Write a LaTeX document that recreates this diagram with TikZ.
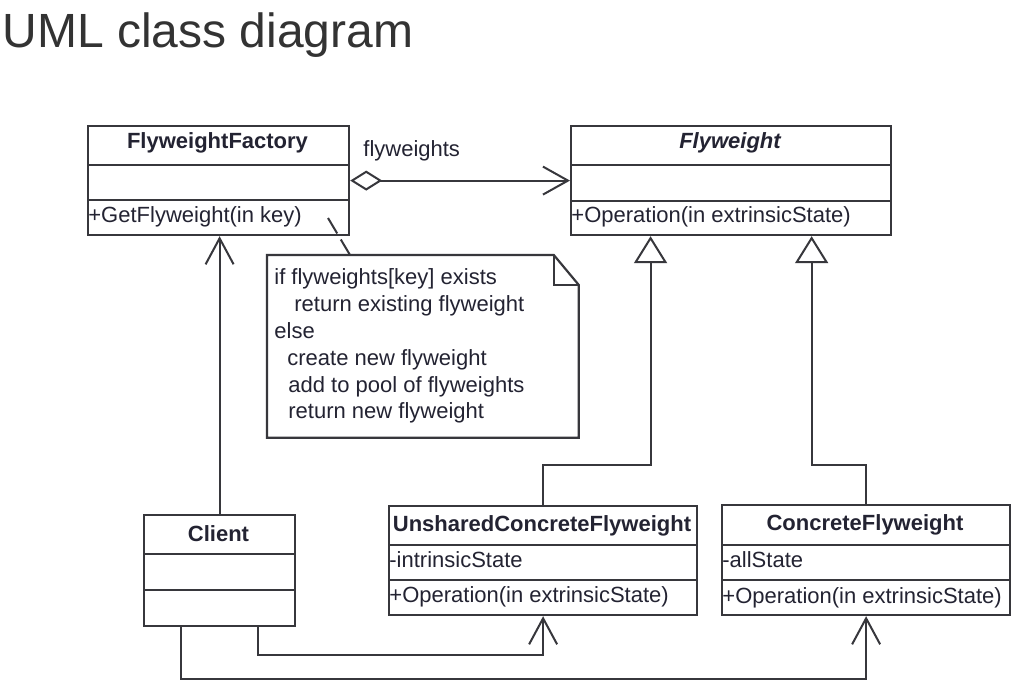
\documentclass[tikz,border=0pt]{standalone}
\usepackage{fontspec}
\setmainfont{Liberation Sans}
\usetikzlibrary{arrows.meta,calc}
\definecolor{linec}{RGB}{55,55,60}
\definecolor{textc}{RGB}{35,35,50}
\definecolor{titlec}{RGB}{51,51,51}
\begin{document}
\begin{tikzpicture}[x=0.5pt,y=-0.5pt,
  classbox/.style={draw=linec,line width=1.1pt,inner sep=0pt,anchor=north west},
  sep/.style={draw=linec,line width=1.1pt},
  txt/.style={inner sep=0pt,anchor=base west,text=textc,font=\fontsize{11}{13.25}\selectfont},
  cname/.style={inner sep=0pt,anchor=base,text=textc,font=\fontsize{11}{13.25}\selectfont\bfseries},
  conn/.style={draw=linec,line width=1pt},
  assoc/.style={conn,-{Straight Barb[length=13pt,width=14pt,line width=1pt]}},
  gen/.style={conn,-{Triangle[open,length=13.5pt,width=16.5pt,line width=1pt,fill=white]}},
  agg/.style={conn,{Diamond[open,length=16pt,width=10pt,line width=1pt,fill=white]}-{Straight Barb[length=12.5pt,width=14pt,line width=1pt]}},
  notelink/.style={conn,dash pattern=on 9pt off 3.5pt}
]
\fill[white] (0,0) rectangle (1021,689);
\useasboundingbox (0,0) rectangle (1021,689);

% title
\node[inner sep=0pt,anchor=base west,text=titlec,font=\fontsize{24}{28}\selectfont] (title) at (2,48) {UML class diagram};

% FlyweightFactory
\node[classbox,minimum width=130.5pt,minimum height=54.5pt] (ff) at (87,125) {};
\draw[sep] (ff.west |- 0,165) -- (ff.east |- 0,165);
\draw[sep] (ff.west |- 0,200) -- (ff.east |- 0,200);
\node[cname] (ffname) at (217.5,149) {FlyweightFactory};
\node[txt] (ffop) at (88,223) {+GetFlyweight(in key)};

% Flyweight
\node[classbox,minimum width=160pt,minimum height=54.5pt] (fw) at (570,125) {};
\draw[sep] (fw.west |- 0,165) -- (fw.east |- 0,165);
\draw[sep] (fw.west |- 0,201) -- (fw.east |- 0,201);
\node[cname] (fwname) at (730,149) {\itshape Flyweight};
\node[txt] (fwop) at (571,223) {+Operation(in extrinsicState)};

% Client
\node[classbox,minimum width=75.5pt,minimum height=55.5pt] (client) at (143,514) {};
\draw[sep] (client.west |- 0,554) -- (client.east |- 0,554);
\draw[sep] (client.west |- 0,590) -- (client.east |- 0,590);
\node[cname] (clname) at (218.5,541) {Client};

% UnsharedConcreteFlyweight
\node[classbox,minimum width=154pt,minimum height=54.5pt] (ucf) at (388,505) {};
\draw[sep] (ucf.west |- 0,545) -- (ucf.east |- 0,545);
\draw[sep] (ucf.west |- 0,580) -- (ucf.east |- 0,580);
\node[cname] (ucfname) at (542,531) {UnsharedConcreteFlyweight};
\node[txt] (ucfattr) at (389,567) {-intrinsicState};
\node[txt] (ucfop) at (389,602) {+Operation(in extrinsicState)};

% ConcreteFlyweight
\node[classbox,minimum width=144pt,minimum height=55pt] (cf) at (721,504) {};
\draw[sep] (cf.west |- 0,545) -- (cf.east |- 0,545);
\draw[sep] (cf.west |- 0,580) -- (cf.east |- 0,580);
\node[cname] (cfname) at (865,530) {ConcreteFlyweight};
\node[txt] (cfattr) at (722,567) {-allState};
\node[txt] (cfop) at (722,603) {+Operation(in extrinsicState)};

% Note
\node[inner sep=0pt,minimum width=155.5pt,minimum height=91pt,anchor=north west] (note) at (267,255) {};
\draw[linec,line width=1.1pt,fill=white,line join=miter]
  (note.north west) -- ($(note.north east)+(-25,0)$) -- ($(note.north east)+(0,30)$)
  -- (note.south east) -- (note.south west) -- cycle;
\draw[linec,line width=1pt] ($(note.north east)+(-25,0)$) -- ($(note.north east)+(-25,30)$) -- ($(note.north east)+(0,30)$);
\node[txt] (n1) at (274,285) {if flyweights[key] exists};
\node[txt] (n2) at (294,312) {return existing flyweight};
\node[txt] (n3) at (274,338) {else};
\node[txt] (n4) at (287,365) {create new flyweight};
\node[txt] (n5) at (288,392) {add to pool of flyweights};
\node[txt] (n6) at (288,418) {return new flyweight};

% connectors
\coordinate (fwL) at ($(fw.south west)!0.25!(fw.south east)$);
\coordinate (fwR) at ($(fw.south west)!0.75!(fw.south east)$);
\coordinate (cl1) at ($(client.south west)!0.25!(client.south east)$);
\coordinate (cl2) at ($(client.south west)!0.75!(client.south east)$);
\coordinate (ffk) at (328,218);
\coordinate (nk) at ($(note.north west)+(83,0)$);

\draw[agg] (ff.east) -- (fw.west);
\node[txt] (aggl) at (363,157) {flyweights};
\draw[assoc] (client.north) -- (client.north |- ff.south);
\draw[gen] (ucf.north) -- ++(0,-40) -| (fwL);
\draw[gen] (cf.north) -- ++(0,-39) -| (fwR);
\draw[assoc] (cl2) -- ++(0,28) -| (ucf.south);
\draw[assoc] (cl1) -- ++(0,52) -| (cf.south);
\draw[notelink] (ffk) -- (nk);
\end{tikzpicture}
\end{document}
